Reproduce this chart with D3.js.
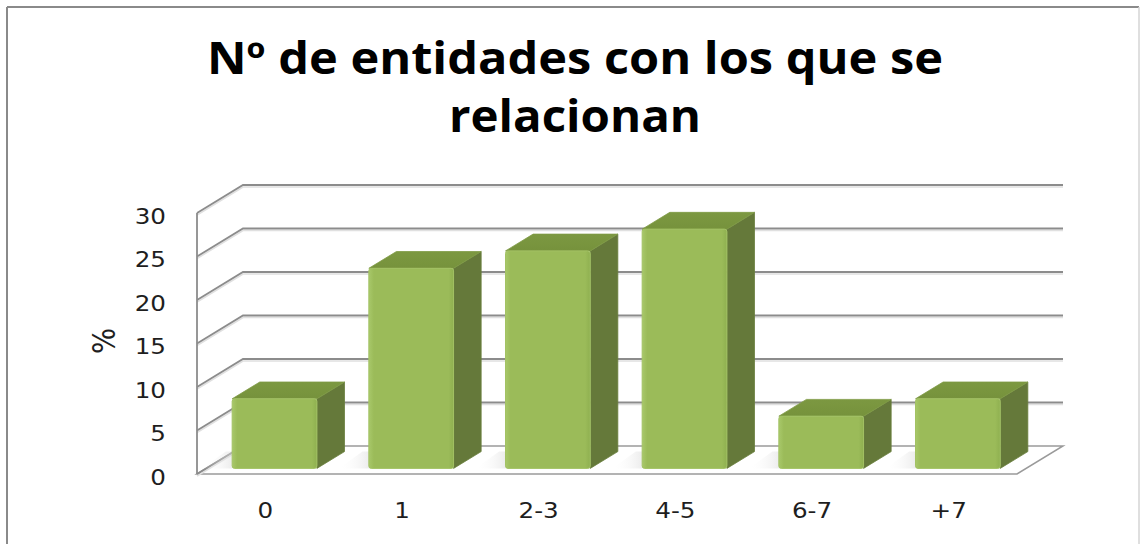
<!DOCTYPE html>
<html>
<head>
<meta charset="utf-8">
<script src="https://cdn.jsdelivr.net/npm/d3@7"></script>
<style>
  html, body { margin: 0; padding: 0; background: #fff; }
  svg { display: block; }
</style>
</head>
<body>
<svg id="chart" width="1141" height="544"></svg>
<script>
const titleLines = ["Nº de entidades con los que se", "relacionan"];
const categories = ["0", "1", "2-3", "4-5", "6-7", "+7"];
const values = [8, 23, 25, 27.5, 6, 8];
const yTicks = [0, 5, 10, 15, 20, 25, 30];
const yLabel = "%";

const svg = d3.select("#chart");
const W = 1141, H = 544;

// outer frame
svg.append("line").attr("x1", 7).attr("y1", 7).attr("x2", 1139).attr("y2", 7).attr("stroke", "#8a8a8a").attr("stroke-width", 2);
svg.append("line").attr("x1", 7).attr("y1", 7).attr("x2", 7).attr("y2", H).attr("stroke", "#8a8a8a").attr("stroke-width", 2);
svg.append("line").attr("x1", 1139).attr("y1", 7).attr("x2", 1139).attr("y2", H).attr("stroke", "#d4d4d4").attr("stroke-width", 1.5);

// title
const titleG = svg.append("g").attr("font-family", "'Open Sans', sans-serif").attr("font-weight", "bold").attr("fill", "#000");
titleG.append("text").attr("x", 575).attr("y", 74).attr("text-anchor", "middle").attr("font-size", 44)
  .attr("textLength", 736).attr("lengthAdjust", "spacingAndGlyphs").text(titleLines[0]);
titleG.append("text").attr("x", 575).attr("y", 132).attr("text-anchor", "middle").attr("font-size", 44)
  .attr("textLength", 252).attr("lengthAdjust", "spacingAndGlyphs").text(titleLines[1]);

// 3D geometry
const DX = 46, DY = -28;          // depth offset from front to back plane
const f0 = 0.2, f1 = 0.8;          // bar depth fractions
const x = d3.scaleBand().domain(categories).range([197, 1017]).paddingInner(0.38).paddingOuter(0.19);
const y = d3.scaleLinear().domain([0, 30]).range([474, 213]);
const xL = 197, xR = 1017;

const defs = svg.append("defs");
const fg = defs.append("linearGradient").attr("id", "front").attr("x1", 0).attr("x2", 1).attr("y1", 0).attr("y2", 0);
fg.append("stop").attr("offset", 0).attr("stop-color", "#a8c86a");
fg.append("stop").attr("offset", 0.06).attr("stop-color", "#9bbb59");
fg.append("stop").attr("offset", 0.94).attr("stop-color", "#9bbb59");
fg.append("stop").attr("offset", 1).attr("stop-color", "#8fb050");
const tg = defs.append("linearGradient").attr("id", "top").attr("x1", 0).attr("x2", 0).attr("y1", 0).attr("y2", 1);
tg.append("stop").attr("offset", 0).attr("stop-color", "#7c9841");
tg.append("stop").attr("offset", 1).attr("stop-color", "#76923c");
const sg = defs.append("linearGradient").attr("id", "shadow").attr("x1", 1).attr("x2", 0).attr("y1", 0).attr("y2", 0);
sg.append("stop").attr("offset", 0).attr("stop-color", "#bdbdbd").attr("stop-opacity", 0.9);
sg.append("stop").attr("offset", 1).attr("stop-color", "#ffffff").attr("stop-opacity", 0);

const grid = svg.append("g");
// floor
const floorPts = [[xL, y(0)], [xL + DX, y(0) + DY], [xR + DX, y(0) + DY], [xR, y(0)]];
grid.append("polygon").attr("points", floorPts.map(p => p.join(",")).join(" "))
  .attr("fill", "#fff").attr("stroke", "#9a9a9a").attr("stroke-width", 1.5);
// gridlines: side wall + back wall
yTicks.forEach(t => {
  const yy = y(t);
  const pts = t === 0 ? [[xL, yy], [xL + DX, yy + DY]] : [[xL, yy], [xL + DX, yy + DY], [xR + DX, yy + DY]];
  grid.append("polyline").attr("points", pts.map(p => [p[0], p[1] + 2].join(",")).join(" "))
    .attr("fill", "none").attr("stroke", "#e0e0e0").attr("stroke-width", 1.5);
  grid.append("polyline").attr("points", pts.map(p => p.join(",")).join(" "))
    .attr("fill", "none").attr("stroke", "#8c8c8c").attr("stroke-width", 1.8);
});
// left front edge
grid.append("line").attr("x1", xL).attr("y1", y(30)).attr("x2", xL).attr("y2", y(0))
  .attr("stroke", "#8c8c8c").attr("stroke-width", 1.8);

// bars
const bw = x.bandwidth();
const dd = (f1 - f0) * DX, ddy = (f1 - f0) * DY;
const bars = svg.append("g");
categories.forEach((c, i) => {
  const v = values[i];
  const xl = x(c) + f0 * DX, xr = xl + bw;
  const yt = y(v) + f0 * DY, yb = y(0) + f0 * DY;
  // shadow on floor
  bars.append("polygon")
    .attr("points", [[xl, yb], [xl + dd - 4, yb + ddy], [xl - 34 + dd, yb + ddy], [xl - 30, yb]].map(p => p.join(",")).join(" "))
    .attr("fill", "url(#shadow)");
  // side face
  bars.append("polygon")
    .attr("points", [[xr, yt], [xr + dd, yt + ddy], [xr + dd, yb + ddy], [xr, yb]].map(p => p.join(",")).join(" "))
    .attr("fill", "#65793a").attr("stroke", "#6a7f3d").attr("stroke-width", 0.8).attr("stroke-linejoin", "round");
  // top face
  bars.append("polygon")
    .attr("points", [[xl, yt], [xl + dd, yt + ddy], [xr + dd, yt + ddy], [xr, yt]].map(p => p.join(",")).join(" "))
    .attr("fill", "url(#top)").attr("stroke", "#7f9b45").attr("stroke-width", 0.8).attr("stroke-linejoin", "round");
  // front face
  bars.append("rect").attr("x", xl).attr("y", yt).attr("width", bw).attr("height", yb - yt)
    .attr("rx", 2.5).attr("fill", "url(#front)").attr("stroke", "#a3c264").attr("stroke-width", 1);
});

// y tick labels
const tickG = svg.append("g").attr("font-family", "'DejaVu Sans', Verdana, sans-serif").attr("font-size", 22).attr("fill", "#1e1e1e");
tickG.selectAll("text").data(yTicks).join("text")
  .attr("transform", d => `translate(166,${y(d) + 3}) scale(1.12,1)`)
  .attr("text-anchor", "end").attr("dominant-baseline", "central").text(d => d);

// category labels
const catG = svg.append("g").attr("font-family", "'DejaVu Sans', Verdana, sans-serif").attr("font-size", 22).attr("fill", "#1e1e1e");
catG.selectAll("text").data(categories).join("text")
  .attr("transform", d => `translate(${x(d) + bw / 2},${510}) scale(1.12,1)`)
  .attr("text-anchor", "middle").attr("dominant-baseline", "central").text(d => d);

// y axis title
svg.append("text").attr("transform", "translate(104,341) rotate(-90) scale(1.1,1.25)")
  .attr("font-family", "'DejaVu Sans', Verdana, sans-serif").attr("font-size", 25).attr("fill", "#1e1e1e")
  .attr("text-anchor", "middle").attr("dominant-baseline", "central").text(yLabel);
</script>
</body>
</html>
